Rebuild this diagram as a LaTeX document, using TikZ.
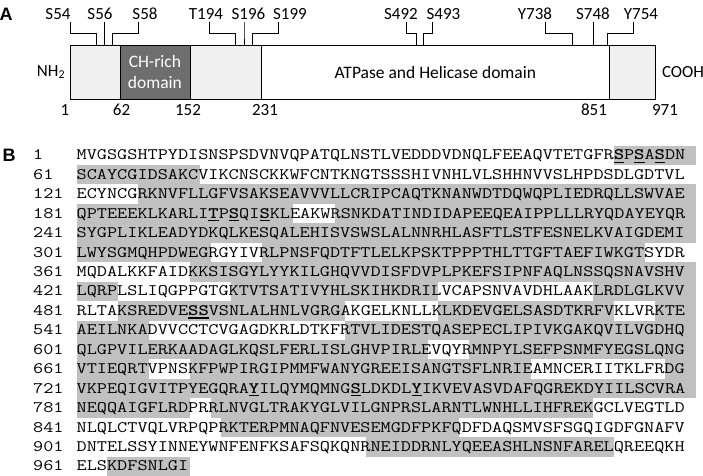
\documentclass[tikz,border=0pt]{standalone}
\usepackage{fontspec}
\usepackage{graphicx}
\setmainfont{Carlito}
\newfontfamily\labfont{Liberation Sans}
\definecolor{seqgray}{RGB}{192,192,192}
\definecolor{boxlight}{RGB}{240,240,240}
\definecolor{boxdark}{RGB}{110,110,110}
\newcommand\seqbox[1]{\scalebox{1.2298}[1]{#1}}
\newcommand\phos[1]{\rlap{\rule[-3.2pt]{8.4pt}{1.5pt}}\textbf{#1}}
\begin{document}
\begin{tikzpicture}[x=1pt,y=-1pt,
  seq/.style={inner sep=0pt, anchor=base west, font=\fontsize{16}{19}\selectfont\ttfamily},
  panlab/.style={inner sep=0pt, font=\labfont\bfseries\fontsize{18}{18}\selectfont},
  site/.style={inner sep=0pt, font=\fontsize{17}{17}\selectfont},
  numlab/.style={inner sep=0pt, anchor=base, font=\fontsize{17}{17}\selectfont},
  conn/.style={line width=0.8pt},
  seg/.style={draw=black, line width=0.8pt, inner sep=0pt, anchor=north west, minimum height=54pt, font=\fontsize{17.5}{21}\selectfont, align=center},
  hlband/.style={fill=seqgray}]
\useasboundingbox (0,0) rectangle (703,475);
% ---------- Panel A ----------
\node[panlab] (A) at (6,14) {A};
\foreach \n/\cx/\t/\dx/\tx in {54/58/S54/12.5/96.4, 56/100/S56/4.5/104.5, 58/145/S58/-6.4/112.7,
  194/206/T194/3/235.5, 196/248.5/S196/-4.5/244, 199/290/S199/-12/252,
  492/401/S492/5/416, 493/443.5/S493/-11.5/423.6,
  738/535/Y738/10.5/572.7, 748/593/S748/0/593, 754/641/Y754/-8/607.7}{
  \node[site, anchor=base] (s\n) at (\cx,19) {\t};
  \coordinate (e\n) at (\tx,33);
  \coordinate (p\n) at (\tx,45);
  \draw[conn] ([xshift=\dx pt, yshift=-2.5pt]s\n.base) |- (e\n) -- (p\n);
}
\node[seg, fill=boxlight, minimum width=50pt] (g1) at (69.5,45) {};
\node[seg, fill=boxdark, text=white, minimum width=70pt] (ch) at (119.5,45) {CH-rich\\domain};
\node[seg, fill=boxlight, minimum width=71.9pt] (g3) at (189.5,45) {};
\node[seg, fill=white, minimum width=347.2pt] (atp) at (261.4,45) {ATPase and Helicase domain};
\node[seg, fill=boxlight, minimum width=45.9pt] (g5) at (608.6,45) {};
\node[site] (nh) at (51,72) {NH\textsubscript{2}};
\node[site] (cooh) at (683,72) {COOH};
\foreach \v/\x in {1/65, 62/121.5, 152/188, 231/265, 851/594, 971/665}{
  \node[numlab] (m\v) at (\x,115) {\v};
}
% ---------- Panel B ----------
\node[panlab] (B) at (9,155) {B};
\def\xo{76.5}
\def\pw{10.33}
\foreach \k/\a/\b in {0/52/60, 1/0/12, 2/6/60, 3/0/21, 3/25/60, 4/0/60, 5/0/13, 5/18/55,
  6/11/60, 7/0/4, 7/15/35, 7/50/60, 8/4/26, 8/35/52, 8/56/60, 9/0/7, 9/26/60,
  10/0/34, 10/38/60, 11/0/7, 11/11/44, 11/57/60, 12/0/60, 13/0/11, 13/13/50,
  14/14/37, 15/28/52, 16/3/11}{
  \fill[hlband] ({\xo+\a*\pw},{159.9+19.44*\k-14.3}) rectangle ({\xo+\b*\pw},{159.9+19.44*\k+5.14});
}
\foreach \k/\n/\s in {
 0/1/{MVGSGSHTPYDISNSPSDVNVQPATQLNSTLVEDDDVDNQLFEEAQVTETGFR\phos{S}P\phos{S}A\phos{S}DN},
 1/61/{SCAYCGIDSAKCVIKCNSCKKWFCNTKNGTSSSHIVNHLVLSHHNVVSLHPDSDLGDTVL},
 2/121/{ECYNCGRKNVFLLGFVSAKSEAVVVLLCRIPCAQTKNANWDTDQWQPLIEDRQLLSWVAE},
 3/181/{QPTEEEKLKARLI\phos{T}P\phos{S}QI\phos{S}KLEAKWRSNKDATINDIDAPEEQEAIPPLLLRYQDAYEYQR},
 4/241/{SYGPLIKLEADYDKQLKESQALEHISVSWSLALNNRHLASFTLSTFESNELKVAIGDEMI},
 5/301/{LWYSGMQHPDWEGRGYIVRLPNSFQDTFTLELKPSKTPPPTHLTTGFTAEFIWKGTSYDR},
 6/361/{MQDALKKFAIDKKSISGYLYYKILGHQVVDISFDVPLPKEFSIPNFAQLNSSQSNAVSHV},
 7/421/{LQRPLSLIQGPPGTGKTVTSATIVYHLSKIHKDRILVCAPSNVAVDHLAAKLRDLGLKVV},
 8/481/{RLTAKSREDVE\phos{S}\phos{S}VSNLALHNLVGRGAKGELKNLLKLKDEVGELSASDTKRFVKLVRKTE},
 9/541/{AEILNKADVVCCTCVGAGDKRLDTKFRTVLIDESTQASEPECLIPIVKGAKQVILVGDHQ},
 10/601/{QLGPVILERKAADAGLKQSLFERLISLGHVPIRLEVQYRMNPYLSEFPSNMFYEGSLQNG},
 11/661/{VTIEQRTVPNSKFPWPIRGIPMMFWANYGREEISANGTSFLNRIEAMNCERIITKLFRDG},
 12/721/{VKPEQIGVITPYEGQRA\phos{Y}ILQYMQMNG\phos{S}LDKDL\phos{Y}IKVEVASVDAFQGREKDYIILSCVRA},
 13/781/{NEQQAIGFLRDPRRLNVGLTRAKYGLVILGNPRSLARNTLWNHLLIHFREKGCLVEGTLD},
 14/841/{NLQLCTVQLVRPQPRKTERPMNAQFNVESEMGDFPKFQDFDAQSMVSFSGQIGDFGNAFV},
 15/901/{DNTELSSYINNEYWNFENFKSAFSQKQNRNEIDDRNLYQEEASHLNSNFARELQREEQKH},
 16/961/{ELSKDFSNLGI}}{
  \node[seq] (n\k) at (33,{159.9+19.44*\k}) {\seqbox{\n}};
  \node[seq] (r\k) at (\xo,{159.9+19.44*\k}) {\seqbox{\s}};
}
\end{tikzpicture}
\end{document}
